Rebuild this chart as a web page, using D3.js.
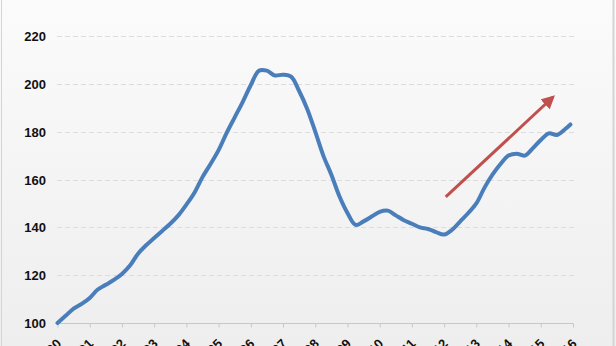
<!DOCTYPE html>
<html><head><meta charset="utf-8">
<script src="https://cdn.jsdelivr.net/npm/d3@7"></script>
<style>body{margin:0;overflow:hidden}</style>
</head><body>
<script>
// Quarterly index values (time as decimal year)
const times = [];
for (let i = 0; i < 64; i++) times.push(2000 + i * 0.25);
times.push(2015.92);
const values = [
100,103,106,108, 110.5,114,116,118, 120.5,124,129,132.5, 135.5,138.5,141.5,145,
149.5,154.5,161,166.5, 172.3,179.5,186,192.5, 199.5,205.5,205.5,203.5, 203.8,203,197,189.5,
180,170,162,153, 146,141,142.5,144.5, 146.5,147,145,143, 141.5,140,139.3,138,
137,139,142.5,146, 150,156.5,162,166.5, 170,170.8,170,173, 176.5,179.3,178.6,181, 183
];
const yTicks = [100,120,140,160,180,200,220];
const xTickYears = d3.range(2000, 2017);
const xTickLabels = ["00","01","02","03","04","05","06","07","08","09","10","11","12","13","14","15","16"];
const arrowFrom = {t: 2012.05, v: 152.7};
const arrowTo = {t: 2015.38, v: 194.5};

const W = 616, H = 346;
const svg = d3.select("body").append("svg").attr("width", W).attr("height", H);
const defs = svg.append("defs");
const grad = defs.append("linearGradient").attr("id","bg").attr("x1",0).attr("y1",0).attr("x2",0).attr("y2",1);
grad.append("stop").attr("offset","0%").attr("stop-color","#fbfbfb");
grad.append("stop").attr("offset","100%").attr("stop-color","#eeeeee");
svg.append("rect").attr("width",W).attr("height",H).attr("fill","url(#bg)");
svg.append("line").attr("x1",1.5).attr("x2",1.5).attr("y1",0).attr("y2",H).attr("stroke","#d4d4d4");
svg.append("line").attr("x1",613.5).attr("x2",613.5).attr("y1",0).attr("y2",H).attr("stroke","#d4d4d4").attr("stroke-width",2);

const x = d3.scaleLinear().domain([2000, 2016]).range([57.5, 573]);
const y = d3.scaleLinear().domain([100, 220]).range([323, 36]);

// gridlines
svg.append("g").selectAll("line").data(yTicks.filter(d => d > 100)).join("line")
  .attr("x1", 57).attr("x2", 575)
  .attr("y1", d => Math.round(y(d)) + 0.5).attr("y2", d => Math.round(y(d)) + 0.5)
  .attr("stroke", "#dcdcdc").attr("stroke-dasharray", "5,3");

// y labels
svg.append("g").selectAll("text").data(yTicks).join("text")
  .attr("x", 46).attr("y", d => y(d) + 5)
  .attr("text-anchor", "end")
  .style("font-family", "Liberation Sans, Arial, sans-serif")
  .style("font-weight", "bold").style("font-size", "13px").attr("fill", "#111")
  .text(d => d);

// x axis
const xAxis = d3.axisBottom(x).tickValues(xTickYears).tickSize(4).tickFormat((d, i) => xTickLabels[i]);
const gx = svg.append("g").attr("transform", "translate(0,323.5)").call(xAxis);
gx.select(".domain").attr("stroke", "#c8c8c8").attr("d", "M57,0H573.5");
gx.selectAll(".tick line").attr("stroke", "#c8c8c8");
gx.selectAll(".tick text")
  .attr("text-anchor", "end").attr("dy", null).attr("y", 0)
  .attr("transform", "translate(4,21) rotate(-45)")
  .style("font-family", "Liberation Sans, Arial, sans-serif")
  .style("font-weight", "bold").style("font-size", "13px").attr("fill", "#111");

// line
const line = d3.line().x((d, i) => x(times[i])).y(d => y(d)).curve(d3.curveCatmullRom.alpha(0.5));
svg.append("path").datum(values).attr("d", line)
  .attr("fill", "none").attr("stroke", "#4a7ebb").attr("stroke-width", 4)
  .attr("stroke-linejoin", "round").attr("stroke-linecap", "round");

// arrow
defs.append("marker").attr("id", "ah").attr("viewBox", "0 0 10 10")
  .attr("refX", 8).attr("refY", 5).attr("markerWidth", 4.5).attr("markerHeight", 4.5)
  .attr("orient", "auto").attr("markerUnits", "strokeWidth")
  .append("path").attr("d", "M0,0L10,5L0,10z").attr("fill", "#c0504d");
svg.append("line")
  .attr("x1", x(arrowFrom.t)).attr("y1", y(arrowFrom.v))
  .attr("x2", x(arrowTo.t)).attr("y2", y(arrowTo.v))
  .attr("stroke", "#c0504d").attr("stroke-width", 3).attr("marker-end", "url(#ah)");
</script>
</body></html>
